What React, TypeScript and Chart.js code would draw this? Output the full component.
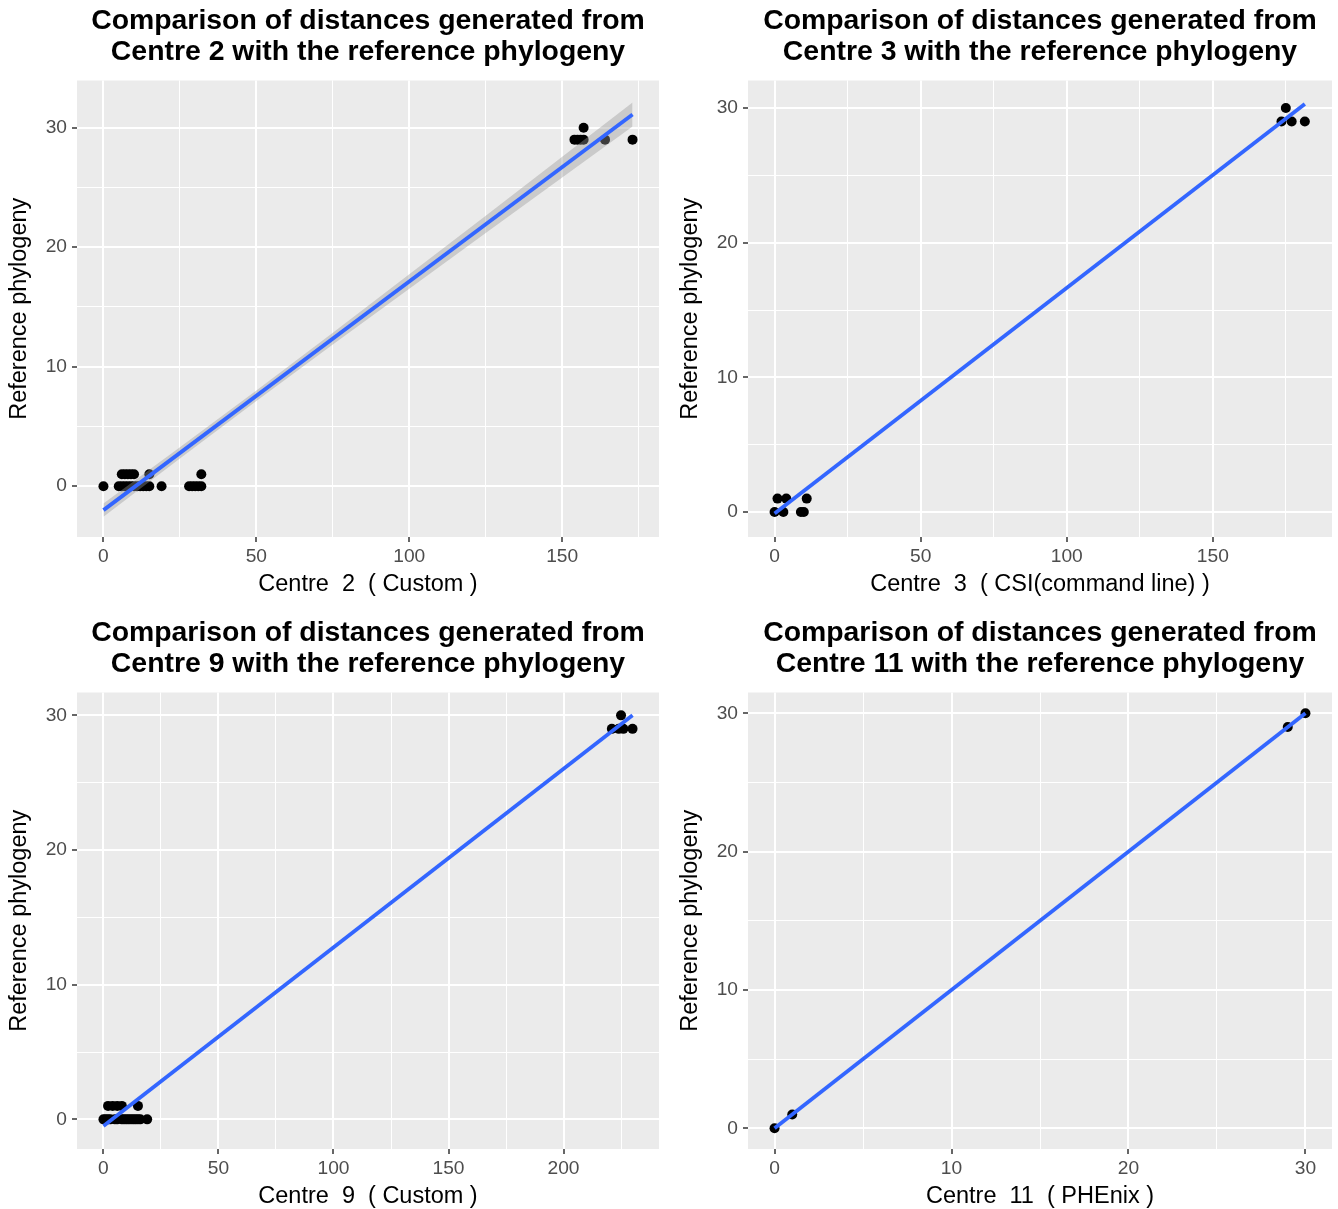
import React, { useEffect, useRef } from 'react';
import { Chart, registerables } from 'chart.js';
Chart.register(...registerables);

const FONT = '"Liberation Sans", Arial, Helvetica, sans-serif';

// ---------- Panel 1 : Centre 2 ----------
const c2Title = ['Comparison of distances generated from', 'Centre 2 with the reference phylogeny'];
const c2XTitle = 'Centre  2  ( Custom )';
const c2PointX = [0, 5, 6, 7, 8, 9, 10, 11, 12, 13, 14, 15, 19, 28, 29, 30, 31, 32, 6, 7, 8, 9, 10, 15, 32, 154, 155, 156, 157, 164, 173, 157];
const c2PointY = [0, 0, 0, 0, 0, 0, 0, 0, 0, 0, 0, 0, 0, 0, 0, 0, 0, 0, 1, 1, 1, 1, 1, 1, 1, 29, 29, 29, 29, 29, 29, 30];
const c2FitX = [0, 173];
const c2FitY = [-2.0, 31.1];
const c2BandX = [0, 25, 50, 75, 100, 125, 150, 173];
const c2BandLow = [-2.55, 2.31, 7.13, 11.85, 16.53, 21.19, 25.84, 30.1];
const c2BandHigh = [-1.45, 3.25, 8.01, 12.85, 17.73, 22.63, 27.56, 32.1];
const c2XMajor = [0, 50, 100, 150];
const c2XMinor = [25, 75, 125, 175];
const c2YMajor = [0, 10, 20, 30];
const c2YMinor = [5, 15, 25];
const c2XRange = [-8.65, 181.65];
const c2YRange = [-4.25, 33.95];

// ---------- Panel 2 : Centre 3 ----------
const c3Title = ['Comparison of distances generated from', 'Centre 3 with the reference phylogeny'];
const c3XTitle = 'Centre  3  ( CSI(command line) )';
const c3PointX = [0, 3, 9, 10, 1, 4, 11, 173.5, 177, 181.5, 175];
const c3PointY = [0, 0, 0, 0, 1, 1, 1, 29, 29, 29, 30];
const c3FitX = [0, 181.5];
const c3FitY = [-0.1, 30.3];
const c3XMajor = [0, 50, 100, 150];
const c3XMinor = [25, 75, 125, 175];
const c3YMajor = [0, 10, 20, 30];
const c3YMinor = [5, 15, 25];
const c3XRange = [-9.1, 190.8];
const c3YRange = [-1.85, 32.05];

// ---------- Panel 3 : Centre 9 ----------
const c9Title = ['Comparison of distances generated from', 'Centre 9 with the reference phylogeny'];
const c9XTitle = 'Centre  9  ( Custom )';
const c9PointX = [0, 1, 2, 3, 5, 6, 8, 9, 10, 11, 12, 13, 14, 15, 16, 19, 2, 4, 6, 8, 15, 221, 224, 226, 230, 225];
const c9PointY = [0, 0, 0, 0, 0, 0, 0, 0, 0, 0, 0, 0, 0, 0, 0, 0, 1, 1, 1, 1, 1, 29, 29, 29, 29, 30];
const c9FitX = [0, 230];
const c9FitY = [-0.5, 30.0];
const c9XMajor = [0, 50, 100, 150, 200];
const c9XMinor = [25, 75, 125, 175, 225];
const c9YMajor = [0, 10, 20, 30];
const c9YMinor = [5, 15, 25];
const c9XRange = [-11.5, 241.5];
const c9YRange = [-2.2, 31.7];

// ---------- Panel 4 : Centre 11 ----------
const c11Title = ['Comparison of distances generated from', 'Centre 11 with the reference phylogeny'];
const c11XTitle = 'Centre  11  ( PHEnix )';
const c11PointX = [0, 1, 29, 30];
const c11PointY = [0, 1, 29, 30];
const c11FitX = [0, 30];
const c11FitY = [0, 30];
const c11XMajor = [0, 10, 20, 30];
const c11XMinor = [5, 15, 25];
const c11YMajor = [0, 10, 20, 30];
const c11YMinor = [5, 15, 25];
const c11XRange = [-1.5, 31.5];
const c11YRange = [-1.5, 31.5];

const Y_TITLE = 'Reference phylogeny';

type PanelProps = {
  left: number; top: number; width: number; height: number;
  padRight: number; yAxisWidth: number; xAxisHeight: number;
  xTitlePadBottom: number; yTitlePadTop: number;
  title: string[]; xTitle: string;
  px: number[]; py: number[]; fx: number[]; fy: number[];
  bx?: number[]; bl?: number[]; bh?: number[];
  xMaj: number[]; xMin: number[]; yMaj: number[]; yMin: number[];
  xr: number[]; yr: number[];
};

const toXY = (xs: number[], ys: number[]) => xs.map((x, i) => ({ x, y: ys[i] }));

const bgPlugin = {
  id: 'panelBg',
  beforeDraw(chart: any) {
    const { ctx, chartArea } = chart;
    ctx.save();
    ctx.fillStyle = '#EBEBEB';
    ctx.fillRect(chartArea.left, chartArea.top, chartArea.right - chartArea.left, chartArea.bottom - chartArea.top);
    ctx.restore();
  },
};

function Panel(p: PanelProps) {
  const ref = useRef<HTMLCanvasElement | null>(null);
  useEffect(() => {
    if (!ref.current) return;
    const datasets: any[] = [
      {
        data: toXY(p.fx, p.fy), showLine: true, borderColor: '#3366FF', borderWidth: 3.8,
        pointRadius: 0, fill: false, tension: 0,
      },
    ];
    if (p.bx && p.bl && p.bh) {
      datasets.push(
        {
          data: toXY(p.bx, p.bh), showLine: true, borderWidth: 0, borderColor: 'rgba(0,0,0,0)',
          pointRadius: 0, fill: '+1', backgroundColor: 'rgba(153,153,153,0.4)', tension: 0,
        },
        {
          data: toXY(p.bx, p.bl), showLine: true, borderWidth: 0, borderColor: 'rgba(0,0,0,0)',
          pointRadius: 0, fill: false, tension: 0,
        }
      );
    }
    datasets.push({
      data: toXY(p.px, p.py), showLine: false, pointRadius: 5, pointBorderWidth: 0,
      pointBackgroundColor: '#000000', backgroundColor: '#000000', borderColor: '#000000',
    });

    const xMajSet = new Set(p.xMaj);
    const yMajSet = new Set(p.yMaj);
    const gridFor = (set: Set<number>) => ({
      color: '#FFFFFF',
      lineWidth: (c: any) => (set.has(c.tick?.value) ? 2 : 1),
      tickColor: (c: any) => (set.has(c.tick?.value) ? '#333333' : 'rgba(0,0,0,0)'),
      tickLength: 5,
      tickWidth: 1.5,
      drawTicks: true,
    });

    const chart = new Chart(ref.current, {
      type: 'line',
      data: { datasets },
      plugins: [bgPlugin],
      options: {
        animation: false,
        responsive: false,
        devicePixelRatio: 1,
        layout: { padding: { left: 0, top: 0, right: p.padRight, bottom: 0 } },
        plugins: {
          legend: { display: false },
          tooltip: { enabled: false },
          title: {
            display: true,
            text: p.title,
            fullSize: false,
            align: 'center',
            color: '#000000',
            font: { family: FONT, size: 28.4, weight: 'bold', lineHeight: 1.1 },
            padding: { top: 5.4, bottom: 12.6 },
          },
        },
        scales: {
          x: {
            type: 'linear',
            min: p.xr[0], max: p.xr[1],
            afterBuildTicks: (s: any) => {
              s.ticks = [...p.xMaj, ...p.xMin].sort((a, b) => a - b).map((v) => ({ value: v }));
            },
            afterFit: (s: any) => { s.height = p.xAxisHeight; },
            grid: gridFor(xMajSet) as any,
            border: { display: false },
            ticks: {
              autoSkip: false, maxRotation: 0, padding: 3, color: '#4D4D4D',
              font: { family: FONT, size: 19.2 },
              callback: (v: any) => (xMajSet.has(Number(v)) ? String(v) : ''),
            },
            title: {
              display: true, text: p.xTitle, color: '#000000',
              font: { family: FONT, size: 23.5 },
              padding: { top: 0, bottom: p.xTitlePadBottom },
            },
          },
          y: {
            type: 'linear',
            min: p.yr[0], max: p.yr[1],
            afterBuildTicks: (s: any) => {
              s.ticks = [...p.yMaj, ...p.yMin].sort((a, b) => a - b).map((v) => ({ value: v }));
            },
            afterFit: (s: any) => { s.width = p.yAxisWidth; },
            grid: gridFor(yMajSet) as any,
            border: { display: false },
            ticks: {
              autoSkip: false, padding: 5, color: '#4D4D4D',
              font: { family: FONT, size: 19.2 },
              callback: (v: any) => (yMajSet.has(Number(v)) ? String(v) : ''),
            },
            title: {
              display: true, text: Y_TITLE, color: '#000000',
              font: { family: FONT, size: 23.5 },
              padding: { top: p.yTitlePadTop, bottom: 0 },
            },
          },
        },
      } as any,
    });
    return () => chart.destroy();
  }, []);
  return (
    <canvas
      ref={ref}
      width={p.width}
      height={p.height}
      style={{ position: 'absolute', left: p.left, top: p.top, width: p.width, height: p.height, display: 'block' }}
    />
  );
}

export default function App() {
  return (
    <div style={{ position: 'absolute', left: 0, top: 0, width: 1338, height: 1209, background: '#FFFFFF', overflow: 'hidden' }}>
      <Panel left={0} top={0} width={669} height={604} padRight={10} yAxisWidth={77} xAxisHeight={67}
        xTitlePadBottom={4.9} yTitlePadTop={5.9} title={c2Title} xTitle={c2XTitle}
        px={c2PointX} py={c2PointY} fx={c2FitX} fy={c2FitY} bx={c2BandX} bl={c2BandLow} bh={c2BandHigh}
        xMaj={c2XMajor} xMin={c2XMinor} yMaj={c2YMajor} yMin={c2YMinor} xr={c2XRange} yr={c2YRange} />
      <Panel left={669} top={0} width={669} height={604} padRight={6} yAxisWidth={79} xAxisHeight={67}
        xTitlePadBottom={4.9} yTitlePadTop={7.9} title={c3Title} xTitle={c3XTitle}
        px={c3PointX} py={c3PointY} fx={c3FitX} fy={c3FitY}
        xMaj={c3XMajor} xMin={c3XMinor} yMaj={c3YMajor} yMin={c3YMinor} xr={c3XRange} yr={c3YRange} />
      <Panel left={0} top={612} width={669} height={597} padRight={10} yAxisWidth={77} xAxisHeight={60}
        xTitlePadBottom={-2} yTitlePadTop={5.9} title={c9Title} xTitle={c9XTitle}
        px={c9PointX} py={c9PointY} fx={c9FitX} fy={c9FitY}
        xMaj={c9XMajor} xMin={c9XMinor} yMaj={c9YMajor} yMin={c9YMinor} xr={c9XRange} yr={c9YRange} />
      <Panel left={669} top={612} width={669} height={597} padRight={6} yAxisWidth={79} xAxisHeight={60}
        xTitlePadBottom={-2} yTitlePadTop={7.9} title={c11Title} xTitle={c11XTitle}
        px={c11PointX} py={c11PointY} fx={c11FitX} fy={c11FitY}
        xMaj={c11XMajor} xMin={c11XMinor} yMaj={c11YMajor} yMin={c11YMinor} xr={c11XRange} yr={c11YRange} />
    </div>
  );
}
